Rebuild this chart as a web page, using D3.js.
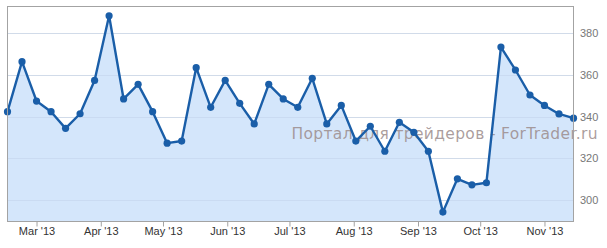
<!DOCTYPE html>
<html>
<head>
<meta charset="utf-8">
<script src="https://cdn.jsdelivr.net/npm/d3@7"></script>
<style>
  html, body { margin: 0; padding: 0; background: #fff; }
  svg { display: block; }
</style>
</head>
<body>
<svg id="chart" width="607" height="248"></svg>
<script>
// ---- data ----
const startDate = "2013-02-15";   // first weekly observation (Friday)
const values = [
  342.4, 366.4, 347.5, 342.4, 334.4, 341.4, 357.4, 388.4, 348.5, 355.5,
  342.4, 327.3, 328.3, 363.5, 344.5, 357.4, 346.4, 336.5, 355.5, 348.5,
  344.5, 358.4, 336.5, 345.4, 328.3, 335.4, 323.4, 337.3, 332.5, 323.4,
  294.2, 310.2, 307.3, 308.3, 373.4, 362.4, 350.4, 345.4, 341.3, 339.3
];
const yTicks = [300, 320, 340, 360, 380];
const xTickMonths = ["2013-03-01","2013-04-01","2013-05-01","2013-06-01","2013-07-01","2013-08-01","2013-09-01","2013-10-01","2013-11-01"];
const watermark = "Портал для трейдеров - ForTrader.ru";

// ---- build ----
const parse = d3.timeParse("%Y-%m-%d");
const t0 = parse(startDate);
const data = values.map((v, i) => ({ date: d3.timeDay.offset(t0, i * 7), value: v }));
const xTicks = xTickMonths.map(parse);

const L = 7.5, R = 573.5, T = 6.5, B = 221.5;
const x = d3.scaleTime().domain([data[0].date, data[data.length - 1].date]).range([L, R]);
const y = d3.scaleLinear().domain([289.7, 393.1]).range([B, T - 0.5]);

const svg = d3.select("#chart");

// gridlines
svg.append("g").selectAll("line").data(yTicks).join("line")
  .attr("x1", L).attr("x2", R)
  .attr("y1", d => Math.round(y(d)) + 0.5).attr("y2", d => Math.round(y(d)) + 0.5)
  .attr("stroke", "#e4e4e4").attr("stroke-width", 1);

// area
const area = d3.area().x(d => x(d.date)).y0(B).y1(d => y(d.value));
svg.append("path").datum(data).attr("d", area)
  .attr("fill", "#cfe3fb").attr("fill-opacity", 0.9);

// gridlines over area (faint)
svg.append("g").selectAll("line").data(yTicks).join("line")
  .attr("x1", L).attr("x2", R)
  .attr("y1", d => Math.round(y(d)) + 0.5).attr("y2", d => Math.round(y(d)) + 0.5)
  .attr("stroke", "#c4d6ec").attr("stroke-opacity", 0.6).attr("stroke-width", 1);

// watermark
svg.append("text")
  .attr("x", 291.5).attr("y", 139.3)
  .attr("font-family", "DejaVu Sans, sans-serif")
  .attr("font-size", 15.5)
  .attr("textLength", 306).attr("lengthAdjust", "spacing")
  .attr("fill", "#9c8c8c").attr("fill-opacity", 0.85)
  .text(watermark);

// line
const line = d3.line().x(d => x(d.date)).y(d => y(d.value));
svg.append("path").datum(data).attr("d", line)
  .attr("fill", "none").attr("stroke", "#1a5ea8").attr("stroke-width", 2.4)
  .attr("stroke-linejoin", "round");

// dots
svg.append("g").selectAll("circle").data(data).join("circle")
  .attr("cx", d => x(d.date)).attr("cy", d => y(d.value)).attr("r", 3.6)
  .attr("fill", "#1a5ea8");

// border
svg.append("rect")
  .attr("x", L).attr("y", T).attr("width", R - L).attr("height", B - T)
  .attr("fill", "none").attr("stroke", "#a3a3a3").attr("stroke-width", 1);

// x axis
const xAxis = d3.axisBottom(x).tickValues(xTicks).tickFormat(d3.timeFormat("%b '%y")).tickSize(5).tickSizeOuter(0);
const gx = svg.append("g").attr("transform", `translate(0,${B})`).call(xAxis);
gx.select(".domain").remove();
gx.selectAll(".tick line").attr("stroke", "#a3a3a3");
gx.selectAll(".tick text")
  .attr("font-family", "Liberation Sans, Arial, sans-serif").attr("font-size", 11)
  .attr("fill", "#333").attr("dy", "0.71em").attr("y", 6);

// y axis (right)
const yAxis = d3.axisRight(y).tickValues(yTicks).tickSize(0).tickFormat(d3.format("d"));
const gy = svg.append("g").attr("transform", `translate(${R},0)`).call(yAxis);
gy.select(".domain").remove();
gy.selectAll(".tick text")
  .attr("x", 6.5)
  .attr("font-family", "Liberation Sans, Arial, sans-serif").attr("font-size", 11)
  .attr("fill", "#777");
</script>
</body>
</html>
